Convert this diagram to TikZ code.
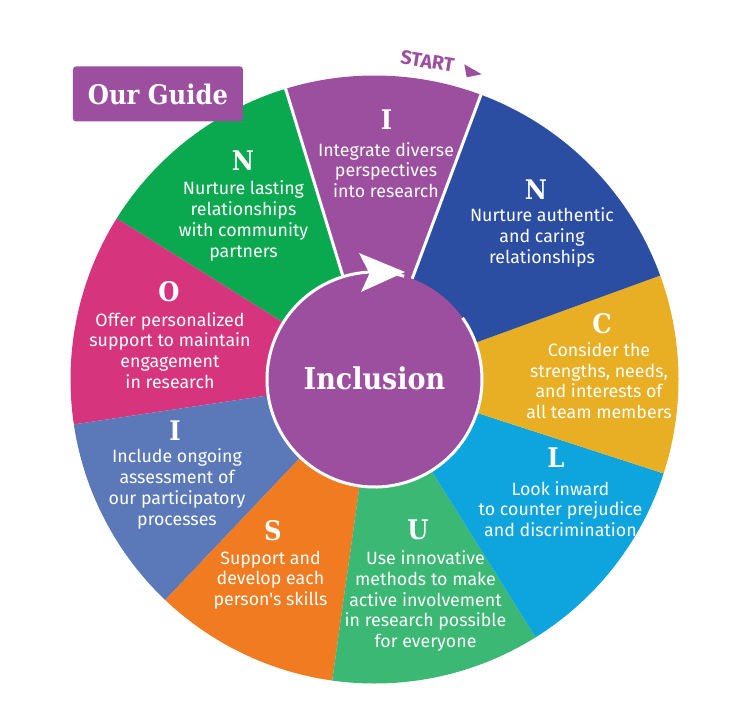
\documentclass[tikz,border=0pt]{standalone}
\usepackage{fontspec}
\usepackage{tikz}
\usetikzlibrary{positioning}

\newfontfamily\bodyfont{Fira Sans}
\IfFontExistsTF{DejaVu Serif Condensed}
  {\newfontfamily\slabfont{DejaVu Serif Condensed}}
  {\newfontfamily\slabfont{DejaVu Serif}}

\definecolor{wpurple}{HTML}{9B4F9E}
\definecolor{wblue}{HTML}{2B4EA2}
\definecolor{wyellow}{HTML}{E8AF24}
\definecolor{wcyan}{HTML}{0EA5DE}
\definecolor{wgreen}{HTML}{3BB873}
\definecolor{worange}{HTML}{F07B21}
\definecolor{wslate}{HTML}{5B78B8}
\definecolor{wpink}{HTML}{D6357E}
\definecolor{wleaf}{HTML}{0BA94F}

\tikzset{
  letter/.style={text=white, inner sep=0pt, font=\slabfont\bfseries\fontsize{27}{27}\selectfont},
  blurb/.style={text=white, align=center, inner sep=0pt, font=\bodyfont\fontsize{17.8}{20.7}\selectfont},
}

\begin{document}
\begin{tikzpicture}[x=1pt,y=1pt]
        \useasboundingbox (-374.5,-321.5) rectangle (363.5,379.5);

        % the wheel
        \foreach \a/\b/\c in {69.5/107/wpurple, 107/148/wleaf, 148/188.5/wpink,
            188.5/226.5/wslate, 226.5/262/worange, 262/302/wgreen,
            302/342/wcyan, 342/380/wyellow, 20/69.5/wblue}
          \fill[\c] (0,0) -- (\a:304) arc[start angle=\a, end angle=\b, radius=304] -- cycle;
        \draw[white, line width=3pt] (69.5:100) -- (69.5:306);
        \draw[white, line width=3pt] (107:100) -- (107:306);

        % hub
        \fill[wpurple] (0,0) circle (107.5);
        \draw[white, line width=3pt] (74:107.5) arc[start angle=74, end angle=395, radius=107.5];
        \fill[white] (-15.5,126.5) -- (30.5,107.5) -- (-13.5,87.5) -- (-5,106) -- cycle;
        \node[text=white, font=\slabfont\bfseries\fontsize{30}{30}\selectfont] (hub) at (0,1) {Inclusion};

        % title and start mark
        \node[fill=wpurple, rounded corners=3pt, minimum width=170, minimum height=55,
              text=white, font=\slabfont\bfseries\fontsize{27}{27}\selectfont] (guide) at (-216.5,285.5) {Our Guide};
        \node[text=wpurple, rotate=-9, font=\bodyfont\bfseries\fontsize{19.5}{19.5}\selectfont] (start) at (53,318) {START};
        \fill[wpurple] (89.8,315.2) -- (107.2,305.2) -- (92.2,302.2) -- cycle;

        % segment texts
        \node[letter] (iA) at (12,259.5) {I};
        \node[blurb] (iAtxt) at (11.5,209.5) {Integrate diverse\\perspectives\\into research};

        \node[letter] (nA) at (161.5,189.5) {N};
        \node[blurb] (nAtxt) at (167.5,142) {Nurture authentic\\and caring\\relationships};

        \node[letter] (cA) at (227.5,55.5) {C};
        \node[blurb] (cAtxt) at (224.5,-1.3) {Consider the\\strengths, needs,\\and interests of\\all team members};

        \node[letter] (lA) at (181.5,-78) {L};
        \node[blurb] (lAtxt) at (186,-129.5) {Look inward\\to counter prejudice\\and discrimination};

        \node[letter] (uA) at (43.5,-150.5) {U};
        \node[blurb] (uAtxt) at (51,-221.5) {Use innovative\\methods to make\\active involvement\\in research possible\\for everyone};

        \node[letter] (sA) at (-101.5,-151.5) {S};
        \node[blurb] (sAtxt) at (-104,-200.5) {Support and\\develop each\\person's skills};

        \node[letter] (iB) at (-199.5,-51.5) {I};
        \node[blurb] (iBtxt) at (-197.5,-109.5) {Include ongoing\\assessment of\\our participatory\\processes};

        \node[letter] (oA) at (-205.5,87.5) {O};
        \node[blurb] (oAtxt) at (-204.5,29) {Offer personalized\\support to maintain\\engagement\\in research};

        \node[letter] (nB) at (-131.5,218.8) {N};
        \node[blurb] (nBtxt) at (-131,158.5) {Nurture lasting\\relationships\\with community\\partners};
    \end{tikzpicture}
\end{document}
